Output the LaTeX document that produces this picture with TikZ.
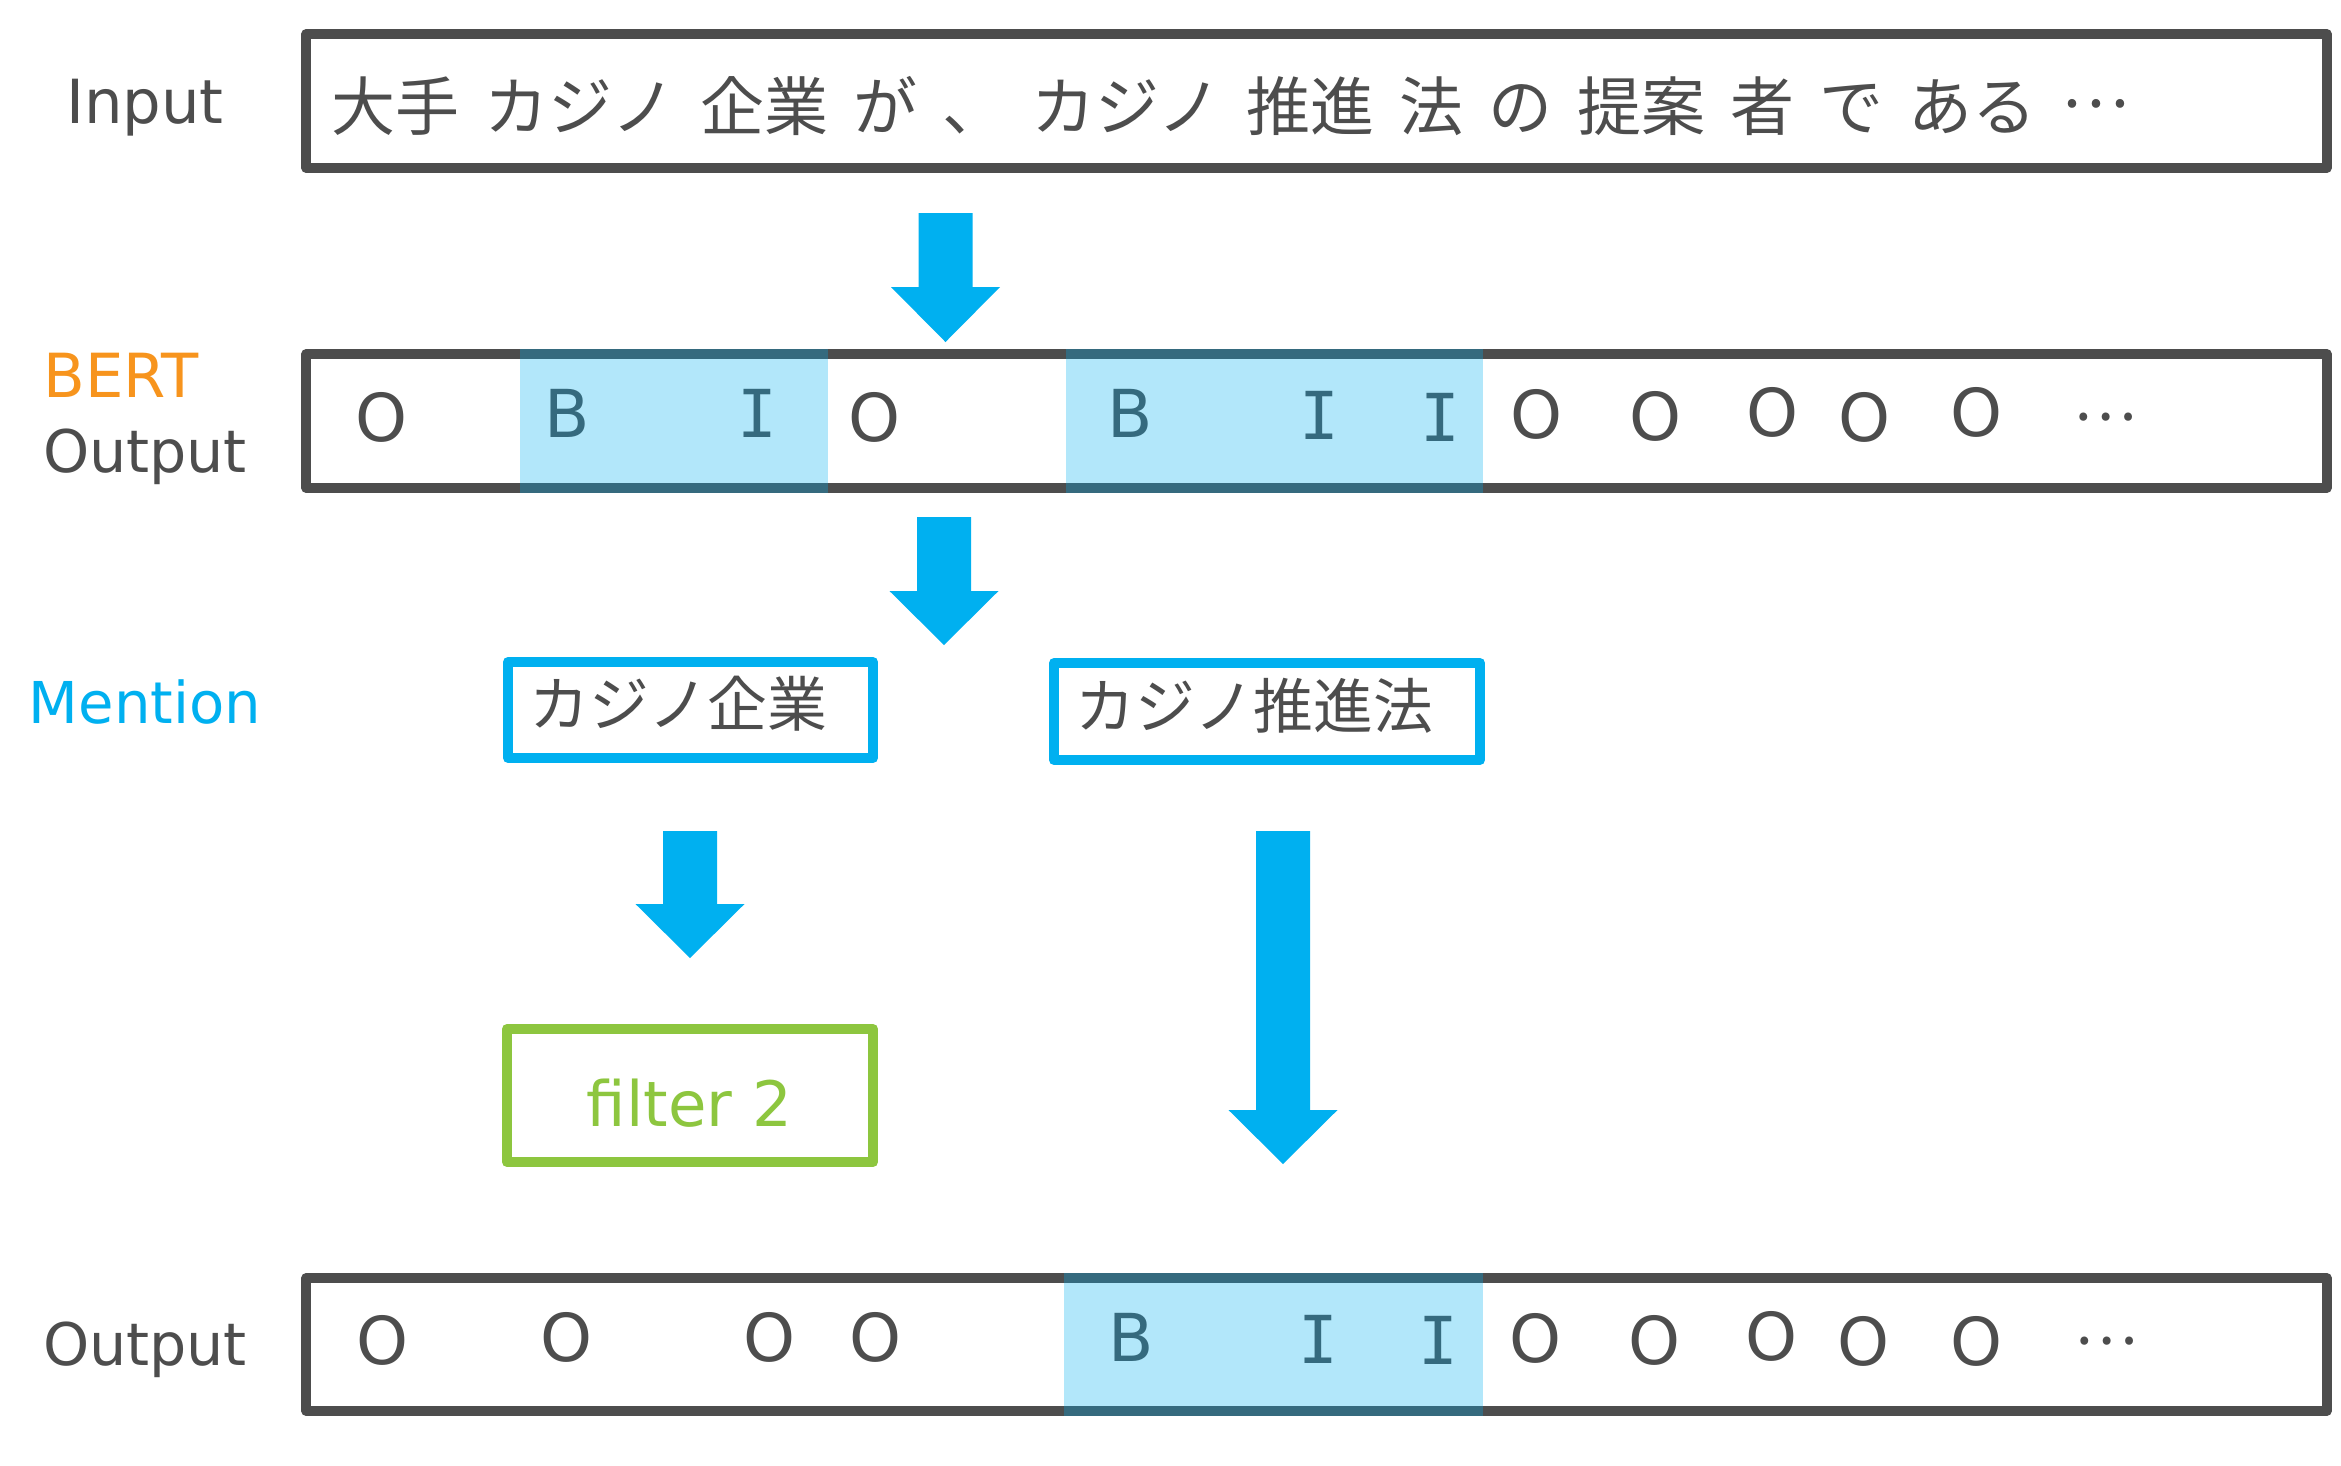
\documentclass[tikz,border=0pt]{standalone}
\usepackage{fontspec}
\setmainfont{DejaVu Sans}
\newfontfamily\jp{Noto Sans CJK JP}
\newfontfamily\mono{DejaVu Sans Mono}
\definecolor{dk}{HTML}{4D4D4D}
\definecolor{cy}{HTML}{00B0F0}
\definecolor{org}{HTML}{F7941D}
\definecolor{grn}{HTML}{8DC63F}
\newcommand\wsp{\hspace{0.39em}}
\newcommand\blockarrow[4]{%
  \fill[cy] ({#1-27},#2) -- ({#1+27},#2) -- ({#1+27},#3) -- ({#1+54.5},#3)
    -- (#1,#4) -- ({#1-54.5},#3) -- ({#1-27},#3) -- cycle;}
\begin{document}
\begin{tikzpicture}[x=0.01cm,y=-0.01cm,
  lbl/.style={font=\fontsize{17.3}{20}\selectfont, text=dk, inner sep=0, anchor=base},
  tag/.style={font=\fontsize{18.8}{22}\selectfont, text=dk, inner sep=0, anchor=base},
  jptext/.style={font=\jp\fontsize{17}{20}\selectfont, text=dk, inner sep=0, anchor=west},
  rowbox/.style={draw=dk, line width=2.845pt, line join=round, fill=white,
    minimum width=20.19cm, minimum height=1.34cm, inner sep=0},
  mbox/.style={draw=cy, line width=2.845pt, line join=round, inner sep=0},
  fbox/.style={draw=grn, line width=2.845pt, line join=round, inner sep=0,
    minimum width=3.66cm, minimum height=1.33cm},
  hl/.style={fill=cy, fill opacity=0.3}]
\useasboundingbox (0,0) rectangle (2341,1465);
\fill[white] (0,0) rectangle (2341,1465);

% row boxes
\node[rowbox] (inbox) at (1316.5,101) {};
\node[rowbox] (bertbox) at (1316.5,421) {};
\node[rowbox, minimum height=1.33cm] (outbox) at (1316.5,1344.5) {};

% labels
\node[lbl] (inlbl) at (145,123) {Input};
\node[lbl, text=org] (bertlbl) at (121,397) {BERT};
\node[lbl, font=\fontsize{16.7}{20}\selectfont] (bertout) at (145,472) {Output};
\node[lbl, text=cy, font=\fontsize{16.4}{20}\selectfont] (mentlbl) at (145,723) {Mention};
\node[lbl, font=\fontsize{16.7}{20}\selectfont] (outlbl) at (145,1365) {Output};

% input text
\node[jptext, font=\jp\fontsize{18.2}{20}\selectfont] (intext) at (331,106.5)
  {大手\wsp カジノ\wsp 企業\wsp が\wsp 、\wsp カジノ\wsp 推進\wsp 法\wsp の\wsp 提案\wsp 者\wsp で\wsp ある\wsp \raisebox{0.36em}{…}};

% BERT output tags
\foreach \x/\y/\t [count=\i] in {382/441/O, 567/437/B, 757/437/{\mono I}, 875/441/O,
  1130/437/B, 1319/439/{\mono I}, 1440/441/{\mono I}, 1537/438/O, 1656/440/O, 1773/436/O,
  1865/441/O, 1977/436/O}
  \node[tag] (b\i) at (\x,\y) {\t};
\node[tag, font=\jp\fontsize{17}{20}\selectfont, anchor=center] (bdots) at (2105,417) {…};

% output tags
\foreach \x/\y/\t [count=\i] in {383/1364/O, 567/1361/O, 770/1361/O, 876/1361/O,
  1131/1361/B, 1318/1363/{\mono I}, 1438/1364/{\mono I}, 1536/1362/O, 1655/1364/O, 1772/1360/O,
  1864/1365/O, 1977/1365/O}
  \node[tag] (o\i) at (\x,\y) {\t};
\node[tag, font=\jp\fontsize{17}{20}\selectfont, anchor=center] (odots) at (2106,1341) {…};

% mention boxes
\node[mbox, minimum width=3.65cm, minimum height=0.96cm] (m1) at (690.5,710) {};
\node[mbox, minimum width=4.26cm, minimum height=0.97cm] (m2) at (1267,711.5) {};
\node[jptext] (m1t) at (529,704) {カジノ企業};
\node[jptext] (m2t) at (1075,706) {カジノ推進法};

% filter box
\node[fbox] (filt) at (690,1095.5) {};
\node[lbl, text=grn, font=\fontsize{17.8}{20}\selectfont] (filtt) at (689.5,1126) {filter 2};

% block arrows
\blockarrow{945.5}{213}{287}{342}
\blockarrow{944}{517}{591}{645}
\blockarrow{690}{831}{904}{958}
\blockarrow{1283}{831}{1110}{1164}

% highlights
\fill[hl] (520,349) rectangle (828,493);
\fill[hl] (1066,349) rectangle (1483,493);
\fill[hl] (1064,1273) rectangle (1483,1416);
\end{tikzpicture}
\end{document}
